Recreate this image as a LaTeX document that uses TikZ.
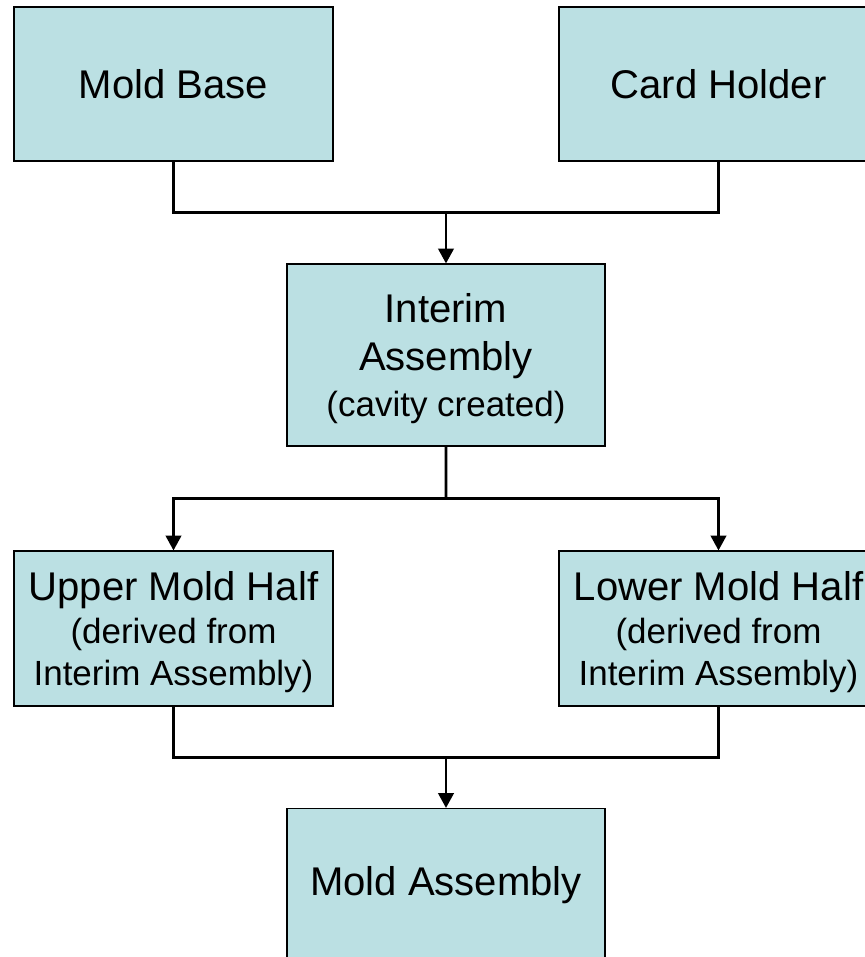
\documentclass[tikz,border=0pt]{standalone}
\usepackage{fontspec}
\setmainfont{Liberation Sans}
\usepackage{tikz}
\usetikzlibrary{shapes.geometric, arrows.meta, calc}
\definecolor{moldfill}{RGB}{187,224,227}
\newcommand{\subnote}[1]{{\fontsize{19.9}{24.4}\selectfont #1}}
\tikzstyle{part} = [rectangle, minimum width=6.38cm, minimum height=3.08cm, text centered, draw=black, line width=0.6pt, fill=moldfill, align=center, font=\fontsize{22.8}{24.4}\selectfont]
\tikzstyle{link} = [line width=1.6pt]
\tikzstyle{arrow} = [line width=1.6pt,->,>={Triangle[length=8.5pt,width=8.8pt]}]

\begin{document}
\begin{tikzpicture}[node distance=5.42cm]
        \useasboundingbox (-3.47,1.68) rectangle (13.83,-17.46);
        \node (base) [part] {Mold Base};
        \node (holder) [part, right of=base, xshift=5.48cm] {Card Holder};
        \node (interim) [part, below of=base, xshift=5.45cm, minimum width=6.36cm, minimum height=3.64cm, text depth=0pt] {Interim\\[2.8pt]Assembly\\[1.6pt]\subnote{(cavity created)}};
        \node (upper) [part, below of=interim, xshift=-5.45cm, yshift=-0.05cm, minimum height=3.1cm, text depth=-0.1cm] {Upper Mold Half\\\subnote{(derived from}\\\subnote{Interim Assembly)}};
        \node (lower) [part, right of=upper, xshift=5.48cm, minimum height=3.1cm, text depth=-0.1cm] {Lower Mold Half\\\subnote{(derived from}\\\subnote{Interim Assembly)}};
        \node (assembly) [part, below of=upper, xshift=5.45cm, yshift=0.28cm, minimum width=6.36cm] {Mold Assembly};
        \coordinate (joinA) at ($(base.south)!.5!(base.south |- interim.north)$);
        \coordinate (joinB) at ($(interim.south)!.5!(interim.south |- upper.north)$);
        \coordinate (joinC) at ($(upper.south)!.5!(upper.south |- assembly.north)$);
        \draw [link] (base.south) -- (joinA) -| (holder.south);
        \draw [arrow] (joinA -| interim.north) -- (interim.north);
        \draw [link] (interim.south) -- (joinB);
        \draw [arrow] (joinB) -| (upper.north);
        \draw [arrow] (joinB) -| (lower.north);
        \draw [link] (upper.south) -- (joinC) -| (lower.south);
        \draw [arrow] (joinC -| assembly.north) -- (assembly.north);
        \end{tikzpicture}
\end{document}
